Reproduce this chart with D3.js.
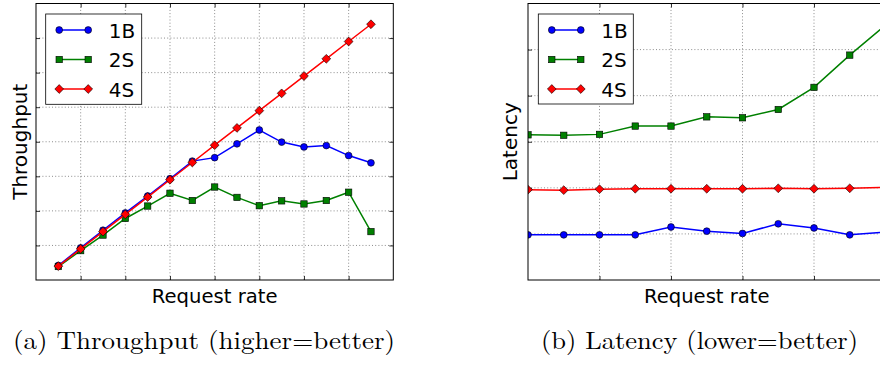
<!DOCTYPE html>
<html><head><meta charset="utf-8">
<script src="https://cdn.jsdelivr.net/npm/d3@7"></script>
<style>body{margin:0;background:#fff}</style></head>
<body>
<svg id="c" width="880" height="365" xmlns="http://www.w3.org/2000/svg"></svg>
<script>
// ---- data ----
const seriesNames = ["1B", "2S", "4S"];
const rateA = [1,2,3,4,5,6,7,8,9,10,11,12,13,14,15];
const throughput1B = [0.42,0.93,1.44,1.94,2.43,2.93,3.44,3.54,3.94,4.34,3.99,3.85,3.89,3.60,3.39];
const throughput2S = [0.39,0.85,1.30,1.78,2.14,2.51,2.30,2.69,2.39,2.15,2.29,2.20,2.30,2.54,1.40];
const throughput4S = [0.40,0.90,1.40,1.90,2.40,2.90,3.40,3.90,4.40,4.90,5.40,5.90,6.40,6.90,7.40];
const rateB = [0,1,2,3,4,5,6,7,8,9,10];
const latency1B = [0.98,0.98,0.98,0.98,1.15,1.06,1.01,1.22,1.13,0.98,1.04];
const latency2S = [3.15,3.14,3.16,3.34,3.34,3.54,3.52,3.70,4.18,4.88,5.53];
const latency4S = [1.96,1.95,1.97,1.98,1.98,1.98,1.98,1.99,1.98,1.99,2.01];
const gridA_x = [2,4,6,8,10,12,14];
const gridA_y = [1,2,3,4,5,6,7];
const gridB_x = [2,4,6,8,10];
const gridB_y = [1,2,3,4,5];
const xLabel = "Request rate";
const yLabelA = "Throughput";
const yLabelB = "Latency";
const captionA = "(a) Throughput (higher=better)";
const captionB = "(b) Latency (lower=better)";

// ---- style ----
const colors = ["#0000ff", "#008000", "#ff0000"];
const markers = ["circle", "square", "diamond"];
const sansFont = "'DejaVu Sans', sans-serif";
const serifFont = "'Latin Modern Roman','CMU Serif','Liberation Serif','Times New Roman',serif";

const svg = d3.select("#c");
svg.append("rect").attr("width", 880).attr("height", 365).attr("fill", "#fff");

function drawMarker(g, type, cx, cy, color) {
  if (type === "circle") {
    g.append("circle").attr("cx", cx).attr("cy", cy).attr("r", 3.4)
      .attr("fill", color).attr("stroke", "#000").attr("stroke-width", 0.6);
  } else if (type === "square") {
    const s = 6.4;
    g.append("rect").attr("x", cx - s/2).attr("y", cy - s/2).attr("width", s).attr("height", s)
      .attr("fill", color).attr("stroke", "#000").attr("stroke-width", 0.6);
  } else {
    const h = 4.4;
    g.append("path").attr("d", `M${cx},${cy-h}L${cx+h},${cy}L${cx},${cy+h}L${cx-h},${cy}Z`)
      .attr("fill", color).attr("stroke", "#000").attr("stroke-width", 0.6);
  }
}

function panel(cfg) {
  const x = d3.scaleLinear().domain(cfg.xDomain).range([cfg.left, cfg.right]);
  const y = d3.scaleLinear().domain(cfg.yDomain).range([cfg.bottom, cfg.top]);
  const g = svg.append("g");
  const clipId = "clip" + cfg.id;
  svg.append("defs").append("clipPath").attr("id", clipId)
    .append("rect").attr("x", cfg.left).attr("y", cfg.top)
    .attr("width", cfg.right - cfg.left).attr("height", cfg.bottom - cfg.top);

  // grid
  const grid = g.append("g").attr("stroke", "#000").attr("stroke-width", 0.6)
    .attr("stroke-dasharray", "1,2.2").attr("opacity", 0.75);
  cfg.gridX.forEach(v => grid.append("line").attr("x1", x(v)).attr("x2", x(v))
    .attr("y1", cfg.top).attr("y2", cfg.bottom));
  cfg.gridY.forEach(v => grid.append("line").attr("y1", y(v)).attr("y2", y(v))
    .attr("x1", cfg.left).attr("x2", cfg.right));

  // ticks (inside, all sides)
  const tk = 4;
  const axB = d3.axisBottom(x).tickValues(cfg.gridX).tickSize(-tk).tickSizeOuter(0).tickFormat("");
  const axT = d3.axisTop(x).tickValues(cfg.gridX).tickSize(-tk).tickSizeOuter(0).tickFormat("");
  const axL = d3.axisLeft(y).tickValues(cfg.gridY).tickSize(-tk).tickSizeOuter(0).tickFormat("");
  const axR = d3.axisRight(y).tickValues(cfg.gridY).tickSize(-tk).tickSizeOuter(0).tickFormat("");
  [[axB, `translate(0,${cfg.bottom})`], [axT, `translate(0,${cfg.top})`],
   [axL, `translate(${cfg.left},0)`], [axR, `translate(${cfg.right},0)`]].forEach(([a, t]) => {
    const ag = g.append("g").attr("transform", t).call(a);
    ag.select(".domain").remove();
    ag.selectAll("line").attr("stroke", "#000").attr("stroke-width", 0.8);
  });

  // series
  const plot = g.append("g").attr("clip-path", `url(#${clipId})`);
  const line = d3.line().x(d => x(d[0])).y(d => y(d[1]));
  cfg.series.forEach((s, i) => {
    const pts = cfg.xs.map((xv, j) => [xv, s[j]]);
    plot.append("path").attr("d", line(pts)).attr("fill", "none")
      .attr("stroke", colors[i]).attr("stroke-width", 1.5);
    pts.forEach(p => drawMarker(plot, markers[i], x(p[0]), y(p[1]), colors[i]));
  });

  // frame
  g.append("rect").attr("x", cfg.left).attr("y", cfg.top)
    .attr("width", cfg.right - cfg.left).attr("height", cfg.bottom - cfg.top)
    .attr("fill", "none").attr("stroke", "#000").attr("stroke-width", 1);

  // legend
  const L = cfg.legend;
  g.append("rect").attr("x", L.x).attr("y", L.y).attr("width", L.w).attr("height", L.h)
    .attr("fill", "#fff").attr("stroke", "#000").attr("stroke-width", 0.8);
  seriesNames.forEach((name, i) => {
    const ly = L.y + 16 + i * 29.5;
    g.append("line").attr("x1", L.x + 13.5).attr("x2", L.x + 42.5).attr("y1", ly).attr("y2", ly)
      .attr("stroke", colors[i]).attr("stroke-width", 1.5);
    drawMarker(g, markers[i], L.x + 13.5, ly, colors[i]);
    drawMarker(g, markers[i], L.x + 42.5, ly, colors[i]);
    g.append("text").attr("x", L.x + 63).attr("y", ly + 7.5).text(name)
      .attr("font-family", sansFont).attr("font-size", 20).attr("fill", "#000");
  });

  // axis labels
  g.append("text").attr("x", (cfg.left + Math.min(cfg.right, 886)) / 2).attr("y", 303)
    .attr("text-anchor", "middle").attr("font-family", sansFont).attr("font-size", 19.6)
    .text(xLabel);
  g.append("text").attr("transform", `translate(${cfg.yLabelX},${(cfg.top + cfg.bottom) / 2}) rotate(-90)`)
    .attr("text-anchor", "middle").attr("font-family", sansFont).attr("font-size", 20)
    .text(cfg.yLabel);

  // caption
  g.append("text").attr("x", cfg.capX0).attr("y", 349)
    .attr("font-family", serifFont).attr("font-size", 25)
    .attr("textLength", cfg.capX1 - cfg.capX0).attr("lengthAdjust", "spacingAndGlyphs")
    .text(cfg.caption);
}

panel({
  id: "A", left: 36, right: 393.3, top: 3.5, bottom: 280,
  xDomain: [0, 16], yDomain: [0, 8], gridX: gridA_x, gridY: gridA_y,
  xs: rateA, series: [throughput1B, throughput2S, throughput4S],
  legend: {x: 45.7, y: 14, w: 96, h: 90.3},
  yLabel: yLabelA, yLabelX: 26.5, caption: captionA, capX0: 13, capX1: 395
});
panel({
  id: "B", left: 528, right: 885.5, top: 3.5, bottom: 280,
  xDomain: [0, 10], yDomain: [0, 6], gridX: gridB_x, gridY: gridB_y,
  xs: rateB, series: [latency1B, latency2S, latency4S],
  legend: {x: 538.3, y: 14, w: 95, h: 90},
  yLabel: yLabelB, yLabelX: 517, caption: captionB, capX0: 541, capX1: 858
});
</script>
</body></html>
